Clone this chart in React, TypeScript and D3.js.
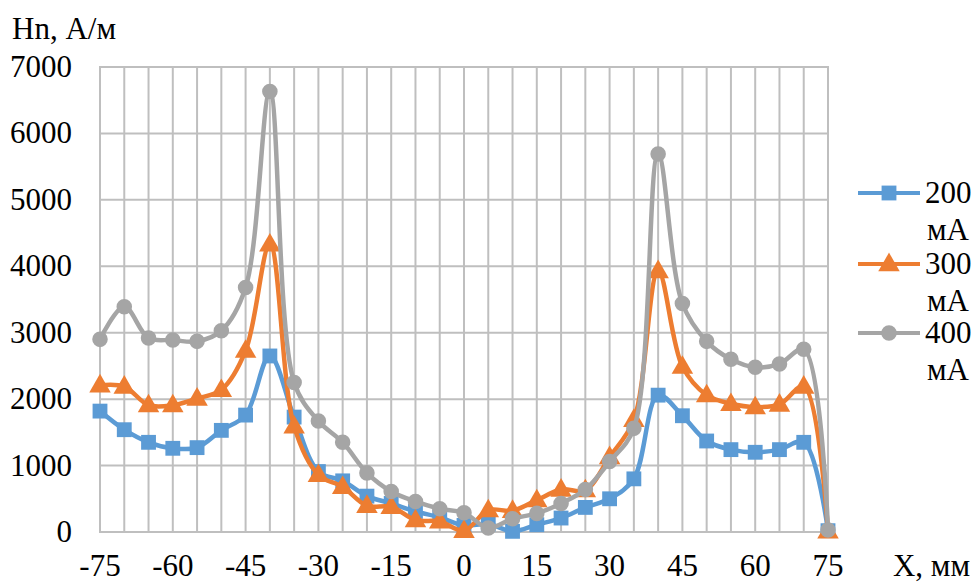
import React, { useEffect, useRef } from 'react';
import * as d3 from 'd3';

const xValues = [-75, -70, -65, -60, -55, -50, -45, -40, -35, -30, -25, -20, -15, -10, -5, 0, 5, 10, 15, 20, 25, 30, 35, 40, 45, 50, 55, 60, 65, 70, 75];
const xTicks = [-75, -60, -45, -30, -15, 0, 15, 30, 45, 60, 75];
const yTicks = [0, 1000, 2000, 3000, 4000, 5000, 6000, 7000];

const h200 = [1820, 1540, 1350, 1260, 1270, 1530, 1760, 2650, 1730, 910, 770, 540, 430, 310, 220, 100, 120, 10, 110, 210, 370, 500, 800, 2060, 1750, 1370, 1240, 1200, 1240, 1350, 20];
const h300 = [2210, 2190, 1910, 1910, 2010, 2140, 2730, 4330, 1590, 860, 680, 395, 380, 180, 160, 20, 330, 320, 480, 640, 630, 1130, 1690, 3930, 2490, 2060, 1930, 1880, 1920, 2190, 10];
const h400 = [2900, 3390, 2920, 2890, 2870, 3030, 3680, 6630, 2250, 1670, 1350, 890, 610, 460, 350, 290, 60, 200, 280, 430, 640, 1060, 1560, 5690, 3440, 2870, 2600, 2480, 2530, 2750, 30];

const seriesNames = ['200', '300', '400'];
const seriesColors = ['#5b9bd5', '#ed7d31', '#a5a5a5'];

export default function App() {
  const ref = useRef<SVGSVGElement>(null);

  useEffect(() => {
    const width = 976;
    const height = 583;
    const margin = { top: 67, right: 148, bottom: 51, left: 100 };
    const font = "'Liberation Serif', 'DejaVu Serif', 'Noto Serif', 'Times New Roman', serif";

    const svg = d3.select(ref.current).attr('viewBox', [0, 0, width, height]);
    svg.selectAll('*').remove();

    // scales
    const x = d3.scaleLinear().domain([-75, 75]).range([margin.left, width - margin.right]);
    const y = d3.scaleLinear().domain([0, 7000]).range([height - margin.bottom, margin.top]);

    // grid
    const grid = svg.append('g').attr('stroke', '#bfbfbf').attr('stroke-width', 2);
    grid
      .selectAll('line.v')
      .data(xValues)
      .join('line')
      .attr('class', 'v')
      .attr('x1', (d) => x(d))
      .attr('x2', (d) => x(d))
      .attr('y1', y(7000))
      .attr('y2', y(0));
    grid
      .selectAll('line.h')
      .data(yTicks)
      .join('line')
      .attr('class', 'h')
      .attr('x1', x(-75) - 1)
      .attr('x2', x(75) + 1)
      .attr('y1', (d) => y(d))
      .attr('y2', (d) => y(d));

    const texts = svg.append('g').style('font-family', font).style('font-size', '31px').attr('fill', '#000');

    // y axis labels
    texts
      .append('g')
      .selectAll('text')
      .data(yTicks)
      .join('text')
      .attr('x', 72)
      .attr('y', (d) => y(d) + 10)
      .attr('text-anchor', 'end')
      .text((d) => d);

    // x axis labels
    texts
      .append('g')
      .selectAll('text')
      .data(xTicks)
      .join('text')
      .attr('x', (d) => x(d))
      .attr('y', 576)
      .attr('text-anchor', 'middle')
      .text((d) => d);

    texts.append('text').attr('x', 12).attr('y', 39).text('Hn, А/м');

    texts.append('text').attr('x', 970).attr('y', 576).attr('text-anchor', 'end').text('X, мм');

    // series
    const allSeries = [h200, h300, h400];
    const symbols = [d3.symbolSquare, d3.symbolTriangle, d3.symbolCircle];
    const symbolSizes = [220, 200, 190];

    const line = d3
      .line<number>()
      .x((d, i) => x(xValues[i]))
      .y((d) => y(d))
      .curve(d3.curveCatmullRom.alpha(0.5));

    allSeries.forEach((values, s) => {
      const g = svg.append('g');
      g.append('path')
        .attr('d', line(values))
        .attr('fill', 'none')
        .attr('stroke', seriesColors[s])
        .attr('stroke-width', 4.5)
        .attr('stroke-linejoin', 'round');
      g.selectAll('path.mark')
        .data(values)
        .join('path')
        .attr('class', 'mark')
        .attr('d', d3.symbol(symbols[s], symbolSizes[s]))
        .attr('transform', (d, i) => `translate(${x(xValues[i])},${y(d) + (s === 1 ? 1 : 0)})`)
        .attr('fill', seriesColors[s]);
    });

    // legend
    const legendY = [193, 264, 333];
    const legend = svg.append('g').style('font-family', font).style('font-size', '31px');
    seriesNames.forEach((name, s) => {
      const ly = legendY[s];
      legend
        .append('line')
        .attr('x1', 858)
        .attr('x2', 920)
        .attr('y1', ly)
        .attr('y2', ly)
        .attr('stroke', seriesColors[s])
        .attr('stroke-width', 4);
      legend
        .append('path')
        .attr('d', d3.symbol(symbols[s], symbolSizes[s])())
        .attr('transform', `translate(889,${ly + (s === 1 ? 1 : 0)})`)
        .attr('fill', seriesColors[s]);
      legend.append('text').attr('x', 925).attr('y', ly + 10).text(name);
      legend.append('text').attr('x', 927).attr('y', ly + 47).text('мА');
    });
  });

  return (
    <svg
      ref={ref}
      width={976}
      height={583}
      style={{ position: 'absolute', left: 0, top: 0, background: '#fff' }}
    />
  );
}
